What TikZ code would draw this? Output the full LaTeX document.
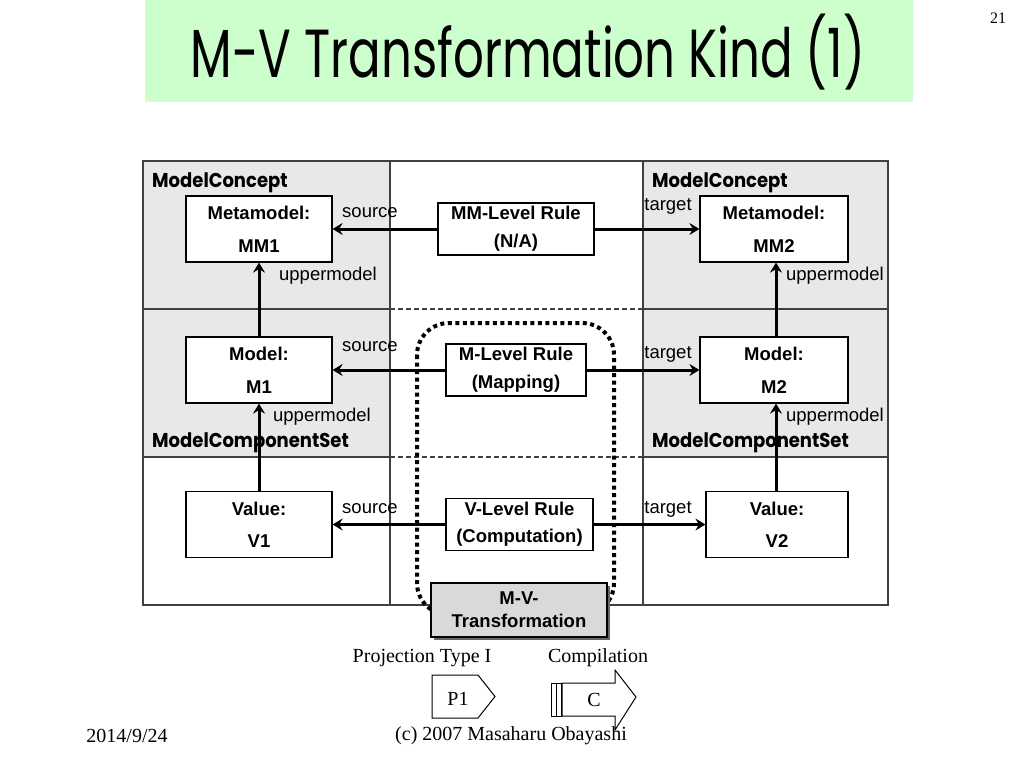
\documentclass[tikz,border=0pt]{standalone}
\usepackage{fontspec}
\setmainfont{Liberation Serif}
\setsansfont{Liberation Sans}
\newfontfamily\titlefont[FakeStretch=0.71]{Poppins}
\newfontfamily\headfont[FakeStretch=0.9]{Poppins}
\usetikzlibrary{arrows.meta,positioning,shapes,shadows}

\begin{document}
\begin{tikzpicture}[x=1pt,y=-1pt,
  every node/.style={align=center,font=\sffamily\fontsize{18.5}{22}\selectfont},
  cell/.style={fill=gray!18},
  frame/.style={draw=black!75,line width=1.3pt},
  concept/.style={font=\headfont\bfseries\fontsize{20}{24}\selectfont,anchor=base west,inner sep=0pt},
  model/.style={draw,line width=1.2pt,fill=white,font=\sffamily\bfseries\fontsize{18.5}{22}\selectfont,
    minimum width=146pt,minimum height=66pt,inner sep=0pt},
  rule/.style={draw,line width=1.2pt,fill=white,font=\sffamily\bfseries\fontsize{18.5}{22}\selectfont,
    minimum height=52pt,inner sep=0pt},
  lbl/.style={inner sep=0pt},
  serif/.style={font=\rmfamily\fontsize{20}{24}\selectfont,inner sep=0pt},
  to/.style={-{Stealth[length=10pt,width=12pt,inset=3.5pt]},line width=3pt}]

    \useasboundingbox[fill=white] (0,0) rectangle (1024,768);

    % title
    \fill[green!20] (145,0) rectangle (913,102);
    \node[font=\titlefont\fontsize{68}{70}\selectfont] (title) at (528,52) {M-V Transformation Kind (1)};
    \node[serif,font=\rmfamily\fontsize{16}{18}\selectfont] (pagenum) at (998,18) {21};

    % grid
    \fill[cell] (143,161) rectangle (390,457);
    \fill[cell] (643,161) rectangle (888,457);
    \draw[frame] (143,161) rectangle (888,605);
    \draw[frame] (390,161) -- (390,605) (643,161) -- (643,605);
    \draw[frame] (143,309) -- (390,309) (643,309) -- (888,309);
    \draw[frame] (143,457) -- (390,457) (643,457) -- (888,457);
    \draw[frame,dash pattern=on 5pt off 3pt] (390,309) -- (643,309) (390,457) -- (643,457);

    \node[concept] (mc1) at (152,187) {ModelConcept};
    \node[concept] (mc2) at (652,187) {ModelConcept};
    \node[concept] (mcs1) at (152,447) {ModelComponentSet};
    \node[concept] (mcs2) at (652,447) {ModelComponentSet};

    % M-V transformation scope
    \draw[line width=4pt,dash pattern=on 4pt off 3.5pt,rounded corners=32pt] (417,323) rectangle (614,615);

    % models
    \node[model] (mm1) at (259,229) {Metamodel:\\[11pt]MM1};
    \node[model] (m1) at (259,370) {Model:\\[11pt]M1};
    \node[model] (v1) at (259,524.5) {Value:\\[10pt]V1};
    \node[model,minimum width=148pt] (mm2) at (774,229) {Metamodel:\\[11pt]MM2};
    \node[model,minimum width=148pt] (m2) at (774,370) {Model:\\[11pt]M2};
    \node[model,minimum width=142pt] (v2) at (777,524.5) {Value:\\[10pt]V2};

    % rules
    \node[rule,minimum width=156pt] (mmrule) at (516,229) {MM-Level Rule\\[6pt](N/A)};
    \node[rule,minimum width=140pt] (mrule) at (516,370) {M-Level Rule\\[6pt](Mapping)};
    \node[rule,minimum width=147pt] (vrule) at (519.5,524.5) {V-Level Rule\\[5pt](Computation)};

    \draw[to] (mmrule) -- (mm1);
    \draw[to] (mmrule) -- (mm2);
    \draw[to] (mrule) -- (m1);
    \draw[to] (mrule) -- (m2);
    \draw[to] (vrule) -- (v1);
    \draw[to] (vrule) -- (v2);

    \draw[to] (m1) -- (mm1);
    \draw[to] (v1) -- (m1);
    \draw[to] (m2.north -| 776,0) -- (mm2.south -| 776,0);
    \draw[to] (v2.north -| 776,0) -- (m2.south -| 776,0);

    \node[lbl] (src1) at (370,213) {source};
    \node[lbl] (src2) at (370,347) {source};
    \node[lbl] (src3) at (370,509) {source};
    \node[lbl] (tgt1) at (668,206) {target};
    \node[lbl] (tgt2) at (668,354) {target};
    \node[lbl] (tgt3) at (668,509) {target};
    \node[lbl] (up1) at (328,276) {uppermodel};
    \node[lbl] (up2) at (835,276) {uppermodel};
    \node[lbl] (up3) at (322,417) {uppermodel};
    \node[lbl] (up4) at (835,417) {uppermodel};

    \node[draw,line width=1.2pt,fill=gray!30,minimum width=176pt,minimum height=54pt,inner sep=0pt,
      font=\sffamily\bfseries\fontsize{18.5}{23}\selectfont,
      drop shadow={shadow xshift=3pt,shadow yshift=-3pt,fill=black!60,opacity=1}] (mvt) at (519,610) {M-V-\\Transformation};

    % kinds
    \node[serif] (proj) at (422,658) {Projection Type I};
    \node[serif] (comp) at (598,658) {Compilation};
    \draw[line width=1pt] (432,675) -- (478,675) -- (495,696.5) -- (478,718) -- (432,718) -- cycle;
    \node[serif] (p1) at (458,699) {P1};
    \draw[line width=1pt] (551,683) rectangle (556,716) (556,683) rectangle (561,716);
    \draw[line width=1pt] (562,683) -- (615,683) -- (615,670) -- (636,697) -- (615,730) -- (615,716) -- (562,716) -- cycle;
    \node[serif] (c) at (594,700) {C};

    % footer
    \node[serif] (date) at (127,736) {2014/9/24};
    \node[serif] (copy) at (511,736) {(c) 2007 Masaharu Obayashi};
\end{tikzpicture}
\end{document}
